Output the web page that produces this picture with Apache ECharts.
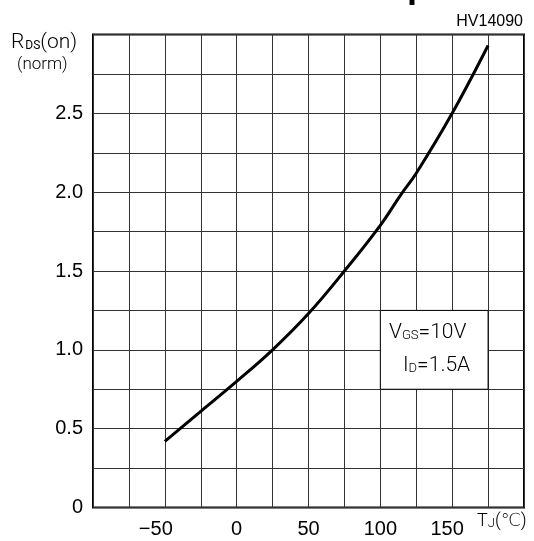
<!DOCTYPE html>
<html>
<head>
<meta charset="utf-8">
<script src="https://cdn.jsdelivr.net/npm/echarts@6/dist/echarts.min.js"></script>
<style>
html,body{margin:0;padding:0;background:#fff;}
#chart{width:534px;height:541px;}
</style>
</head>
<body>
<div id="chart"></div>
<script>
// Junction temperature (°C) and normalized RDS(on) readings
var tempC = [-50, -25, 0, 25, 50, 75, 100, 114, 125, 150, 175];
var rdsNorm = [0.42, 0.61, 0.80, 1.00, 1.23, 1.50, 1.79, 1.98, 2.12, 2.50, 2.93];

var xLabelValues = [-50, 0, 50, 100, 150];
var xLabelTexts = ['\u221250', '0', '50', '100', '150'];
var yLabelValues = [0, 0.5, 1, 1.5, 2, 2.5];
var yLabelTexts = ['0', '0.5', '1.0', '1.5', '2.0', '2.5'];

var chart = echarts.init(document.getElementById('chart'));
var thin = 'Roboto, "DejaVu Sans", sans-serif';
var sans = '"Liberation Sans", Arial, sans-serif';

function lookup(vals, texts, v) {
  for (var i = 0; i < vals.length; i++) {
    if (Math.abs(vals[i] - v) < 1e-6) return texts[i];
  }
  return '';
}

var option = {
  animation: false,
  backgroundColor: '#fff',
  grid: {
    left: 93, right: 10, top: 34.5, bottom: 33.5,
    show: true, borderColor: '#000', borderWidth: 2, backgroundColor: 'transparent'
  },
  xAxis: {
    type: 'value', min: -100, max: 200, interval: 25,
    axisLine: { show: false }, axisTick: { show: false },
    splitLine: { show: true, lineStyle: { color: '#333', width: 1 } },
    axisLabel: {
      margin: 12, fontSize: 20, color: '#000', fontFamily: sans,
      formatter: function (v) {
        var t = lookup(xLabelValues, xLabelTexts, v);
        if (!t) return '';
        if (v === -50) return '{m|' + t + '}';
        if (v === 150) return '{h|' + t + '}';
        return t;
      },
      rich: {
        m: { fontSize: 20, fontFamily: sans, color: '#000', padding: [0, 18, 0, 0] },
        h: { fontSize: 20, fontFamily: sans, color: '#000', padding: [0, 10, 0, 0] }
      }
    }
  },
  yAxis: {
    type: 'value', min: 0, max: 3, interval: 0.25,
    axisLine: { show: false }, axisTick: { show: false },
    splitLine: { show: true, lineStyle: { color: '#333', width: 1 } },
    axisLabel: {
      margin: 10, fontSize: 20, color: '#000', fontFamily: sans,
      formatter: function (v) { return lookup(yLabelValues, yLabelTexts, v); }
    }
  },
  series: [{
    type: 'line',
    data: tempC.map(function (t, i) { return [t, rdsNorm[i]]; }),
    smooth: 0.4,
    showSymbol: false,
    lineStyle: { color: '#000', width: 3 },
    markArea: {
      silent: true,
      itemStyle: { color: '#fff', borderColor: '#000', borderWidth: 1, opacity: 1 },
      data: [[{ coord: [100, 0.75] }, { coord: [175, 1.25] }]]
    },
    z: 3
  }],
  graphic: [
    { type: 'text', left: 407, top: -31, z: 10,
      style: { text: 'p', font: 'bold 36px ' + sans, fill: '#000' } },
    { type: 'text', right: 11, top: 14, z: 10,
      style: { text: 'HV14090', font: '16px ' + sans, fill: '#000' } },
    { type: 'text', left: 11, top: 32, z: 10,
      style: {
        text: '{a|R}{b|DS}{a|(on)}',
        rich: {
          a: { fontSize: 21, fontFamily: thin, fontWeight: 300, color: '#000' },
          b: { fontSize: 12, fontFamily: thin, fontWeight: 400, color: '#000', padding: [6, 0, 0, 1] }
        }
      } },
    { type: 'text', left: 17, top: 56, z: 10,
      style: { text: '(norm)', font: '300 17px ' + thin, fill: '#000' } },
    { type: 'text', left: 477, top: 512, z: 10,
      style: {
        text: '{a|T}{b|J}{a|(\u2103)}',
        rich: {
          a: { fontSize: 18, fontFamily: thin, fontWeight: 300, color: '#000' },
          b: { fontSize: 13, fontFamily: thin, fontWeight: 300, color: '#000', padding: [6, 0, 0, 0] }
        }
      } },
    { type: 'text', left: 389, top: 322, z: 10,
      style: {
        text: '{a|V}{b|GS}{a|=10V}',
        rich: {
          a: { fontSize: 21, fontFamily: thin, fontWeight: 300, color: '#000' },
          b: { fontSize: 13, fontFamily: thin, fontWeight: 300, color: '#000', padding: [6, 0, 0, 0] }
        }
      } },
    { type: 'text', left: 403, top: 355, z: 10,
      style: {
        text: '{a|I}{b|D}{a|=1.5A}',
        rich: {
          a: { fontSize: 21, fontFamily: thin, fontWeight: 300, color: '#000' },
          b: { fontSize: 13, fontFamily: thin, fontWeight: 300, color: '#000', padding: [6, 0, 0, 0] }
        }
      } }
  ]
};
chart.setOption(option);
</script>
</body>
</html>
